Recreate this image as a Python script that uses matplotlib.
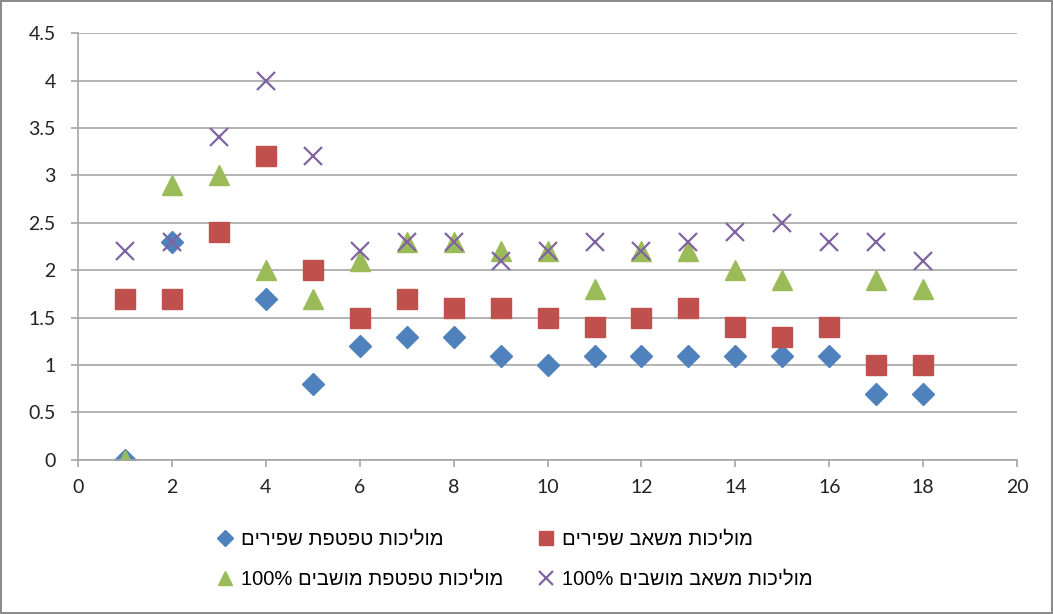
import matplotlib.pyplot as plt
import numpy as np

plt.rcParams['font.family'] = ['Lato', 'Liberation Sans', 'DejaVu Sans']

x = np.arange(1, 19)

# conductivity values per sample
drip_shapirim = [0, 2.3, np.nan, 1.7, 0.8, 1.2, 1.3, 1.3, 1.1, 1.0, 1.1, 1.1, 1.1, 1.1, 1.1, 1.1, 0.7, 0.7]
pump_shapirim = [1.7, 1.7, 2.4, 3.2, 2.0, 1.5, 1.7, 1.6, 1.6, 1.5, 1.4, 1.5, 1.6, 1.4, 1.3, 1.4, 1.0, 1.0]
drip_moshavim = [0, 2.9, 3.0, 2.0, 1.7, 2.1, 2.3, 2.3, 2.2, 2.2, 1.8, 2.2, 2.2, 2.0, 1.9, np.nan, 1.9, 1.8]
pump_moshavim = [2.2, 2.3, 3.4, 4.0, 3.2, 2.2, 2.3, 2.3, 2.1, 2.2, 2.3, 2.2, 2.3, 2.4, 2.5, 2.3, 2.3, 2.1]

labels = ['מוליכות טפטפת שפירים', 'מוליכות משאב שפירים',
          'מוליכות טפטפת מושבים', 'מוליכות משאב מושבים']


def rtl(s, suffix=''):
    # matplotlib has no bidi support, so flip Hebrew to visual order
    return (suffix + ' ' if suffix else '') + s[::-1]


fig = plt.figure(figsize=(10.53, 6.14), dpi=100)
fig.patch.set_edgecolor('#8c8c8c')
fig.patch.set_linewidth(1.5)
ax = fig.add_axes([0.074, 0.251, 0.892, 0.695])

h1, = ax.plot(x, drip_shapirim, 'D', color='#4F81BD', ms=11, ls='none', label=rtl(labels[0]))
h2, = ax.plot(x, pump_shapirim, 's', color='#C0504D', ms=14, ls='none', label=rtl(labels[1]))
h3, = ax.plot(x, drip_moshavim, '^', color='#9BBB59', ms=14, ls='none', label=rtl(labels[2], '100%'))
h4, = ax.plot(x, pump_moshavim, 'x', color='#8064A2', ms=13, mew=1.6, ls='none', label=rtl(labels[3], '100%'))

ax.set_xlim(0, 20)
ax.set_ylim(0, 4.5)
ax.set_xticks(range(0, 21, 2))
ax.set_yticks(np.arange(0, 4.51, 0.5))
ax.set_yticklabels(['0', '0.5', '1', '1.5', '2', '2.5', '3', '3.5', '4', '4.5'])
ax.grid(axis='y', color='#a6a6a6', lw=1.2)
ax.set_axisbelow(True)
for s in ['top', 'right']:
    ax.spines[s].set_visible(False)
for s in ['left', 'bottom']:
    ax.spines[s].set_color('#a6a6a6')
    ax.spines[s].set_linewidth(1.2)
ax.tick_params(colors='#a6a6a6', labelcolor='#222222', labelsize=14, length=5, width=1.2)
ax.tick_params(axis='y', pad=11)
ax.tick_params(axis='x', pad=9)

# row-wise order: diamond, square / triangle, x
fig.legend([h1, h3, h2, h4], [h.get_label() for h in [h1, h3, h2, h4]],
           loc='upper left', bbox_to_anchor=(0.204, 0.137), ncol=2, frameon=False,
           prop={'family': ['Liberation Sans', 'DejaVu Sans'], 'size': 14.5},
           borderpad=0, borderaxespad=0, handlelength=1.0, handletextpad=0.3,
           columnspacing=1.6, labelspacing=1.05, markerscale=0.75)

fig.savefig('out.png', dpi=100, edgecolor=fig.get_edgecolor())
